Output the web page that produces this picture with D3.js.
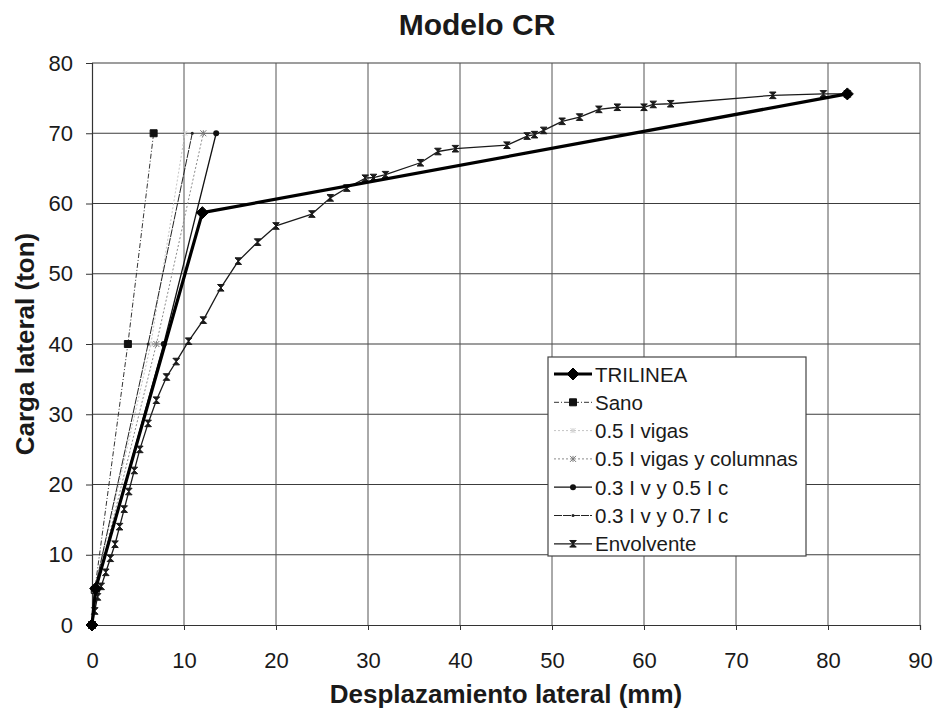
<!DOCTYPE html>
<html>
<head>
<meta charset="utf-8">
<script src="https://cdn.jsdelivr.net/npm/d3@7"></script>
<style>
  html, body { margin: 0; padding: 0; background: #fff; }
  svg { display: block; font-family: "Liberation Sans", Arial, sans-serif; }
</style>
</head>
<body>
<svg id="chart" width="937" height="712"></svg>
<script>
// Load–displacement curves, Modelo CR
const chartTitle = "Modelo CR";
const xTitle = "Desplazamiento lateral (mm)";
const yTitle = "Carga lateral (ton)";
const xTicks = [0, 10, 20, 30, 40, 50, 60, 70, 80, 90];
const yTicks = [0, 10, 20, 30, 40, 50, 60, 70, 80];

const seriesNames = [
  "TRILINEA", "Sano", "0.5 I vigas", "0.5 I vigas y columnas",
  "0.3 I v y 0.5 I c", "0.3 I v y 0.7 I c", "Envolvente"
];

// displacement (mm) / load (ton) per series
const trilineaX = [0, 0.4, 12.0, 82.1];
const trilineaY = [0, 5.2, 58.7, 75.6];

const sanoX = [0, 0.3, 3.9, 6.7];
const sanoY = [0, 5.0, 40.0, 70.0];

const vigasX = [0, 0.3, 6.4, 10.1];
const vigasY = [0, 5.0, 40.0, 70.0];

const vigasColX = [0, 0.4, 7.0, 12.1];
const vigasColY = [0, 5.0, 40.0, 70.0];

const v3c5X = [0, 0.4, 7.8, 13.5];
const v3c5Y = [0, 5.0, 40.0, 70.0];

const v3c7X = [0, 0.3, 6.1, 10.9];
const v3c7Y = [0, 5.0, 40.0, 70.0];

const envX = [0, 0.3, 0.6, 1.0, 1.5, 2.0, 2.5, 3.0, 3.5, 4.0, 4.6, 5.2, 6.1, 7.0, 8.1, 9.15, 10.5,
  12.1, 14.0, 15.9, 18.0, 20.0, 23.9, 25.9, 27.7, 29.7, 30.6, 31.9, 35.7, 37.6, 39.5,
  45.1, 47.3, 48.1, 49.1, 51.1, 53.0, 55.1, 57.1, 60.0, 61.0, 62.9, 74.0, 79.5, 82.1];
const envY = [0, 2.0, 4.0, 5.5, 7.5, 9.5, 11.5, 14.0, 16.5, 19.0, 22.0, 25.0, 28.7, 32.0, 35.3, 37.5, 40.4,
  43.4, 48.0, 51.8, 54.5, 56.8, 58.5, 60.8, 62.2, 63.6, 63.7, 64.1, 65.8, 67.4, 67.8,
  68.3, 69.6, 69.8, 70.4, 71.7, 72.3, 73.4, 73.7, 73.7, 74.1, 74.2, 75.4, 75.6, 75.6];

const zip = (xs, ys) => xs.map((x, i) => ({ x, y: ys[i] }));

// marker path generators (centred at 0,0)
const markDiamond = s => `M0,${-s}L${s},0L0,${s}L${-s},0Z`;
const markSquare = s => `M${-s},${-s}H${s}V${s}H${-s}Z`;
const markHourglass = s => `M${-s},${-s}H${s}L${-s},${s}H${s}Z`;
const markStar = s => `M${-s},${-s}L${s},${s}M${-s},${s}L${s},${-s}M0,${-s}V${s}`;

const series = [
  { name: seriesNames[6], pts: zip(envX, envY), stroke: "#1a1a1a", width: 1.3, dash: null,
    marker: markHourglass(3.3), mFill: "#1a1a1a", mStroke: "#1a1a1a" },
  { name: seriesNames[1], pts: zip(sanoX, sanoY), stroke: "#333", width: 1, dash: "5,2,1,2",
    marker: markSquare(3.5), mFill: "#111", mStroke: "#111" },
  { name: seriesNames[2], pts: zip(vigasX, vigasY), stroke: "#c4c4c4", width: 1, dash: "2,2",
    marker: markStar(2.5), mFill: "none", mStroke: "#cfcfcf" },
  { name: seriesNames[3], pts: zip(vigasColX, vigasColY), stroke: "#8a8a8a", width: 1, dash: "2,2",
    marker: markStar(3), mFill: "none", mStroke: "#777" },
  { name: seriesNames[5], pts: zip(v3c7X, v3c7Y), stroke: "#222", width: 1, dash: "8,1",
    marker: "circle1.5", mFill: "#222", mStroke: "#222" },
  { name: seriesNames[4], pts: zip(v3c5X, v3c5Y), stroke: "#111", width: 1.3, dash: null,
    marker: "circle3", mFill: "#111", mStroke: "#111" },
  { name: seriesNames[0], pts: zip(trilineaX, trilineaY), stroke: "#000", width: 3.2, dash: null,
    marker: markDiamond(6), mFill: "#000", mStroke: "#000" }
];

const svg = d3.select("#chart");
const plot = { left: 92, right: 920, top: 63, bottom: 625 };

const x = d3.scaleLinear().domain([0, 90]).range([plot.left, plot.right]);
const y = d3.scaleLinear().domain([0, 80]).range([plot.bottom, plot.top]);

// gridlines
const grid = svg.append("g");
grid.selectAll("line.h").data(yTicks.slice(1)).join("line")
  .attr("x1", plot.left).attr("x2", plot.right)
  .attr("y1", d => y(d)).attr("y2", d => y(d))
  .attr("stroke", "#3c3c3c").attr("stroke-width", 1.2);
grid.selectAll("line.v").data(xTicks.slice(1)).join("line")
  .attr("y1", plot.top).attr("y2", plot.bottom)
  .attr("x1", d => x(d)).attr("x2", d => x(d))
  .attr("stroke", "#555").attr("stroke-width", 1);

// axes
const xAxis = d3.axisBottom(x).tickValues(xTicks).tickSize(5).tickPadding(22);
const yAxis = d3.axisLeft(y).tickValues(yTicks).tickSize(6).tickPadding(13);

const gx = svg.append("g").attr("transform", `translate(0,${plot.bottom})`).call(xAxis);
const gy = svg.append("g").attr("transform", `translate(${plot.left},0)`).call(yAxis);
[gx, gy].forEach(g => {
  g.select(".domain").attr("stroke", "#333").attr("stroke-width", 1.2);
  g.selectAll(".tick line").attr("stroke", "#333");
  g.selectAll(".tick text").attr("fill", "#1a1a1a").style("font-size", "22px")
    .style("font-family", "'Liberation Sans', Arial, sans-serif");
});

// curves
const line = d3.line().x(d => x(d.x)).y(d => y(d.y));
const curves = svg.append("g");
series.forEach(s => {
  const g = curves.append("g");
  g.append("path").datum(s.pts).attr("d", line)
    .attr("fill", "none").attr("stroke", s.stroke).attr("stroke-width", s.width)
    .attr("stroke-dasharray", s.dash).attr("stroke-linejoin", "round");
  drawMarkers(g, s.pts, s);
});

function drawMarkers(g, pts, s) {
  if (typeof s.marker === "string" && s.marker.startsWith("circle")) {
    const r = +s.marker.slice(6);
    g.selectAll("circle").data(pts).join("circle")
      .attr("cx", d => x(d.x)).attr("cy", d => y(d.y)).attr("r", r)
      .attr("fill", s.mFill).attr("stroke", "none");
  } else {
    g.selectAll("path.m").data(pts).join("path").attr("class", "m")
      .attr("transform", d => `translate(${x(d.x)},${y(d.y)})`)
      .attr("d", s.marker).attr("fill", s.mFill).attr("stroke", s.mStroke).attr("stroke-width", 1);
  }
}

// legend
const legendOrder = [6, 1, 2, 3, 5, 4, 0];
const lg = svg.append("g").attr("transform", "translate(548,357)");
lg.append("rect").attr("width", 258).attr("height", 199)
  .attr("fill", "#fff").attr("stroke", "#444").attr("stroke-width", 1.2);
legendOrder.forEach((si, i) => {
  const s = series[si];
  const cy = 17 + i * 28.3;
  const row = lg.append("g").attr("transform", `translate(0,${cy})`);
  row.append("line").attr("x1", 6).attr("x2", 44).attr("y1", 0).attr("y2", 0)
    .attr("stroke", s.stroke).attr("stroke-width", s.width).attr("stroke-dasharray", s.dash);
  if (typeof s.marker === "string" && s.marker.startsWith("circle")) {
    row.append("circle").attr("cx", 25).attr("cy", 0).attr("r", +s.marker.slice(6)).attr("fill", s.mFill);
  } else {
    row.append("path").attr("transform", "translate(25,0)").attr("d", s.marker)
      .attr("fill", s.mFill).attr("stroke", s.mStroke).attr("stroke-width", 1);
  }
  row.append("text").attr("x", 47).attr("y", 7.5).text(s.name)
    .style("font-size", "20.5px").attr("fill", "#1a1a1a");
});

// titles
svg.append("text").attr("x", 477).attr("y", 35).attr("text-anchor", "middle")
  .style("font-size", "30px").style("font-weight", "bold").attr("fill", "#1a1a1a").text(chartTitle);
svg.append("text").attr("x", (plot.left + plot.right) / 2).attr("y", 703).attr("text-anchor", "middle")
  .style("font-size", "26px").style("font-weight", "bold").attr("fill", "#1a1a1a").text(xTitle);
svg.append("text").attr("transform", `translate(34,${(plot.top + plot.bottom) / 2}) rotate(-90)`)
  .attr("text-anchor", "middle")
  .style("font-size", "26px").style("font-weight", "bold").attr("fill", "#1a1a1a").text(yTitle);
</script>
</body>
</html>
